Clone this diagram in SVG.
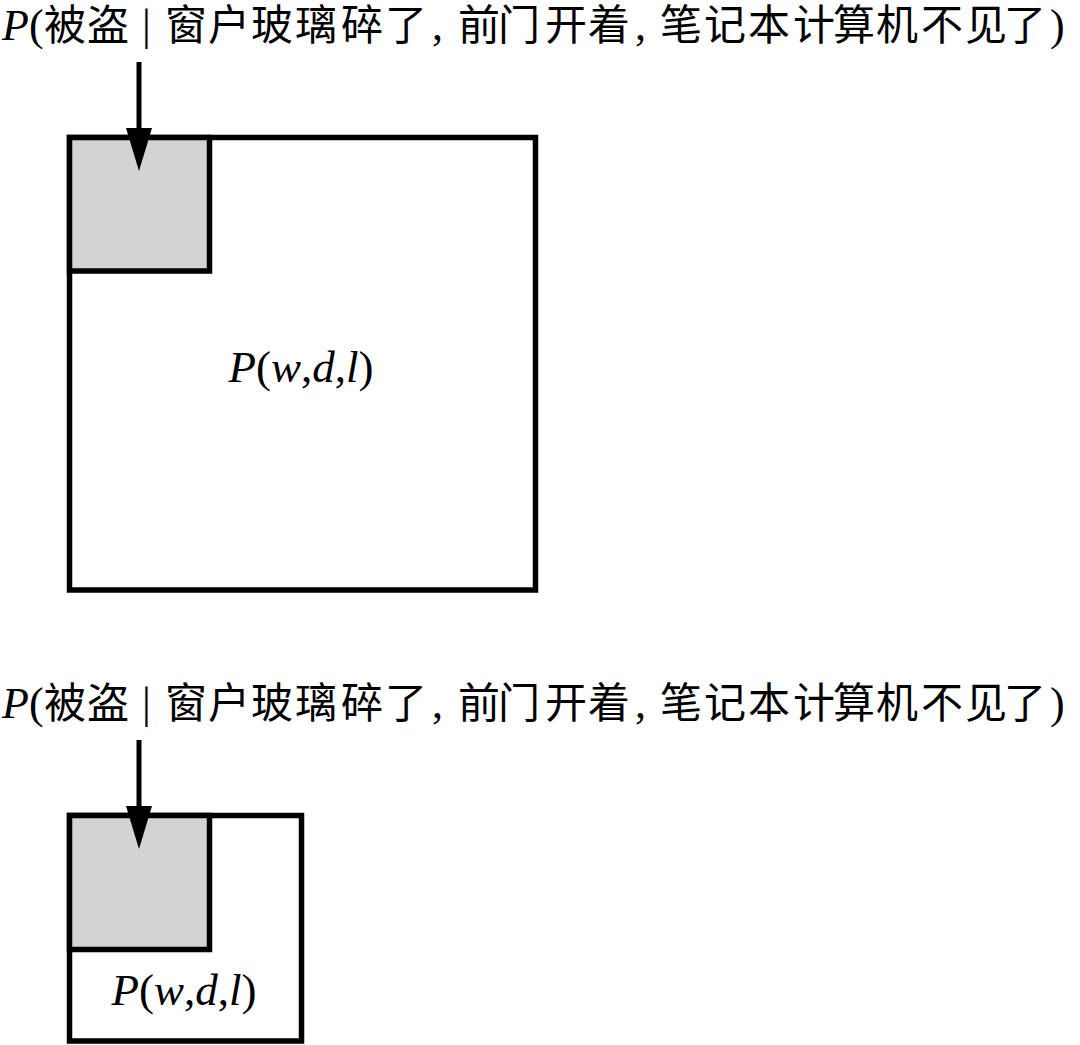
<svg xmlns="http://www.w3.org/2000/svg" width="1080" height="1045" viewBox="0 0 1080 1045">
  <style>
    .frame { fill: #ffffff; stroke: #000000; stroke-width: 5.5; }
    .region { fill: #d3d3d3; stroke: #000000; stroke-width: 5.5; }
    .title { font-family: "Liberation Serif", "Noto Sans CJK SC", serif; font-size: 44px; fill: #000000; }
    .cjk { font-family: "Noto Sans CJK SC", "Liberation Serif", sans-serif; font-size: 42px; }
    .label { font-family: "Liberation Serif", serif; font-size: 45px; fill: #000000; }
    .it { font-style: italic; }
    .shaft { stroke: #000000; stroke-width: 5; fill: none; }
  </style>
  <defs>
    <marker id="head" markerUnits="userSpaceOnUse" markerWidth="43" markerHeight="26" viewBox="0 0 43 26" refX="0" refY="13" orient="auto">
      <path d="M0,0 L43,13 L0,26 z" fill="#000000"/>
    </marker>
  </defs>

  <rect width="1080" height="1045" fill="#ffffff"/>

  <!-- Top diagram -->
  <g id="title-1">
    <text class="title" y="40"><tspan class="it" x="2">P</tspan><tspan x="29">(</tspan><tspan class="cjk" x="44 87">被盗</tspan><tspan x="142">|</tspan><tspan class="cjk" x="165 208 251 295 341 385">窗户玻璃碎了</tspan><tspan x="432">,</tspan><tspan class="cjk" x="458 498 545 588">前门开着</tspan><tspan x="635">,</tspan><tspan class="cjk" x="660 704 748 793 833 876 921 965 1004">笔记本计算机不见了</tspan><tspan x="1050">)</tspan></text>
  </g>
  <g id="box-1">
    <rect class="frame" x="69.5" y="137.5" width="466" height="452.5"/>
  </g>
  <g id="region-1">
    <rect class="region" x="69.5" y="137.5" width="140" height="133.5"/>
  </g>
  <g id="label-1">
    <text class="label" x="301" y="382" text-anchor="middle"><tspan class="it">P</tspan>(<tspan class="it">w</tspan>,<tspan class="it">d</tspan>,<tspan class="it">l</tspan>)</text>
  </g>

  <!-- Bottom diagram -->
  <g id="title-2">
    <text class="title" y="718"><tspan class="it" x="2">P</tspan><tspan x="29">(</tspan><tspan class="cjk" x="44 87">被盗</tspan><tspan x="142">|</tspan><tspan class="cjk" x="165 208 251 295 341 385">窗户玻璃碎了</tspan><tspan x="432">,</tspan><tspan class="cjk" x="458 498 545 588">前门开着</tspan><tspan x="635">,</tspan><tspan class="cjk" x="660 704 748 793 833 876 921 965 1004">笔记本计算机不见了</tspan><tspan x="1050">)</tspan></text>
  </g>
  <g id="box-2">
    <rect class="frame" x="69.5" y="815.5" width="232" height="225.5"/>
  </g>
  <g id="region-2">
    <rect class="region" x="69.5" y="815.5" width="140" height="134"/>
  </g>
  <g id="label-2">
    <text class="label" x="184" y="1005" text-anchor="middle"><tspan class="it">P</tspan>(<tspan class="it">w</tspan>,<tspan class="it">d</tspan>,<tspan class="it">l</tspan>)</text>
  </g>

  <!-- Connectors -->
  <g id="connectors">
    <line class="shaft" x1="139" y1="62" x2="139" y2="128" marker-end="url(#head)"/>
    <line class="shaft" x1="139" y1="740" x2="139" y2="806" marker-end="url(#head)"/>
  </g>
</svg>
